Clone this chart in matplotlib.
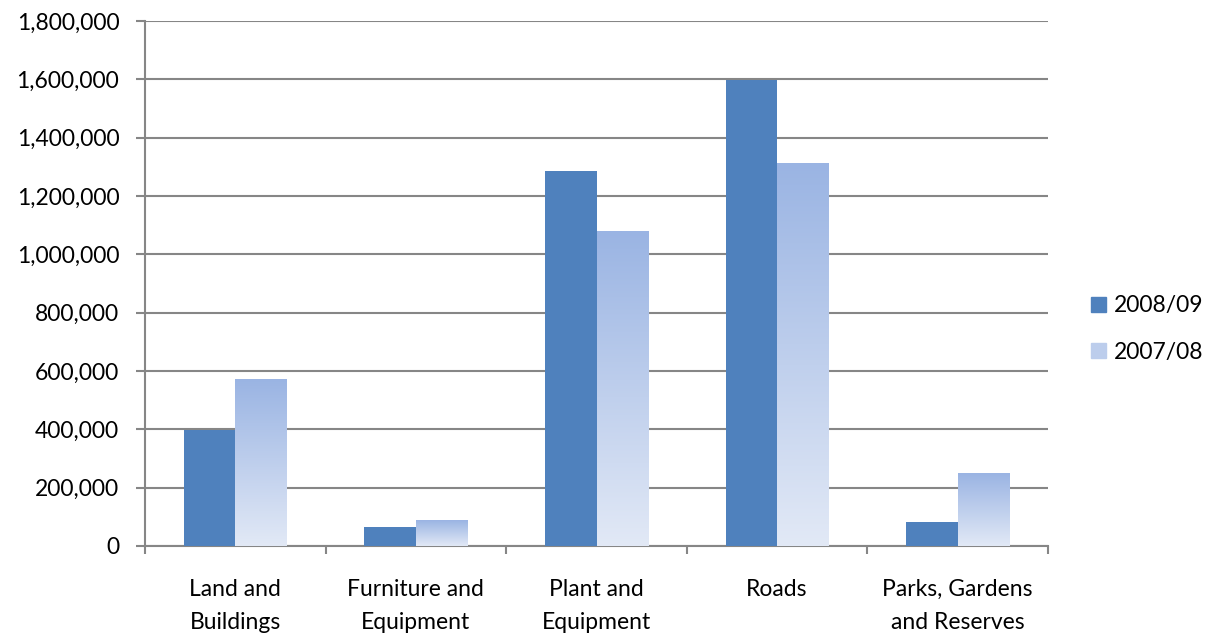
import numpy as np
import matplotlib.pyplot as plt
from matplotlib.colors import LinearSegmentedColormap
from matplotlib.patches import Rectangle

categories = ["Land and\nBuildings", "Furniture and\nEquipment", "Plant and\nEquipment",
              "Roads", "Parks, Gardens\nand Reserves"]
values_0809 = [398000, 65000, 1286000, 1598000, 82000]
values_0708 = [570000, 89000, 1077000, 1313000, 247000]
yticks = np.arange(0, 1800001, 200000)

solid = "#4F81BD"
grad_top = "#9AB4E3"
grad_bottom = "#E2E9F6"
gray = "#868686"

plt.rcParams['font.family'] = ['Lato', 'DejaVu Sans']
fs = 16.5

fig = plt.figure(figsize=(12.09, 6.34), dpi=100)
ax = fig.add_axes([145 / 1209, 1 - 546 / 634, (1048 - 145) / 1209, (546 - 21) / 634])

n = len(categories)
w = 1 / 3.5
x = np.arange(n)
ax.bar(x - w / 2, values_0809, width=w, color=solid, zorder=3)

cmap = LinearSegmentedColormap.from_list("g", [grad_bottom, grad_top])
grad = np.linspace(0, 1, 256).reshape(-1, 1)
for xi, v in zip(x, values_0708):
    ax.imshow(grad, cmap=cmap, origin="lower", aspect="auto",
              extent=[xi, xi + w, 0, v], zorder=3, interpolation="bilinear")

ax.set_xlim(-0.5, n - 0.5)
ax.set_ylim(0, 1800000)
ax.set_yticks(yticks)
ax.set_yticklabels([f"{v:,}" for v in yticks], fontsize=fs)
ax.yaxis.grid(True, color=gray, linewidth=1.5, zorder=0)
ax.set_axisbelow(True)

ax.set_xticks(np.arange(-0.5, n, 1))
ax.set_xticklabels([])
ax.set_xticks(x, minor=True)
ax.set_xticklabels(categories, minor=True, fontsize=fs, linespacing=1.7)
ax.tick_params(axis="x", which="minor", length=0, pad=24)
ax.tick_params(axis="x", which="major", length=6, width=1.5, color=gray, direction="out")
ax.tick_params(axis="y", length=6.5, width=1.5, color=gray, direction="out", pad=12)

for s in ["top", "right"]:
    ax.spines[s].set_visible(False)
for s in ["left", "bottom"]:
    ax.spines[s].set_color(gray)
    ax.spines[s].set_linewidth(1.5)

handles = [Rectangle((0, 0), 1, 1, color=solid),
           Rectangle((0, 0), 1, 1, color="#BCCDEC")]
fig.legend(handles, ["2008/09", "2007/08"], loc="center left",
           bbox_to_anchor=(1070 / 1209, 1 - 329 / 634), frameon=False,
           fontsize=fs, handlelength=0.65, handleheight=0.65,
           labelspacing=1.1, handletextpad=0.35)

fig.savefig("out.png", dpi=100)
